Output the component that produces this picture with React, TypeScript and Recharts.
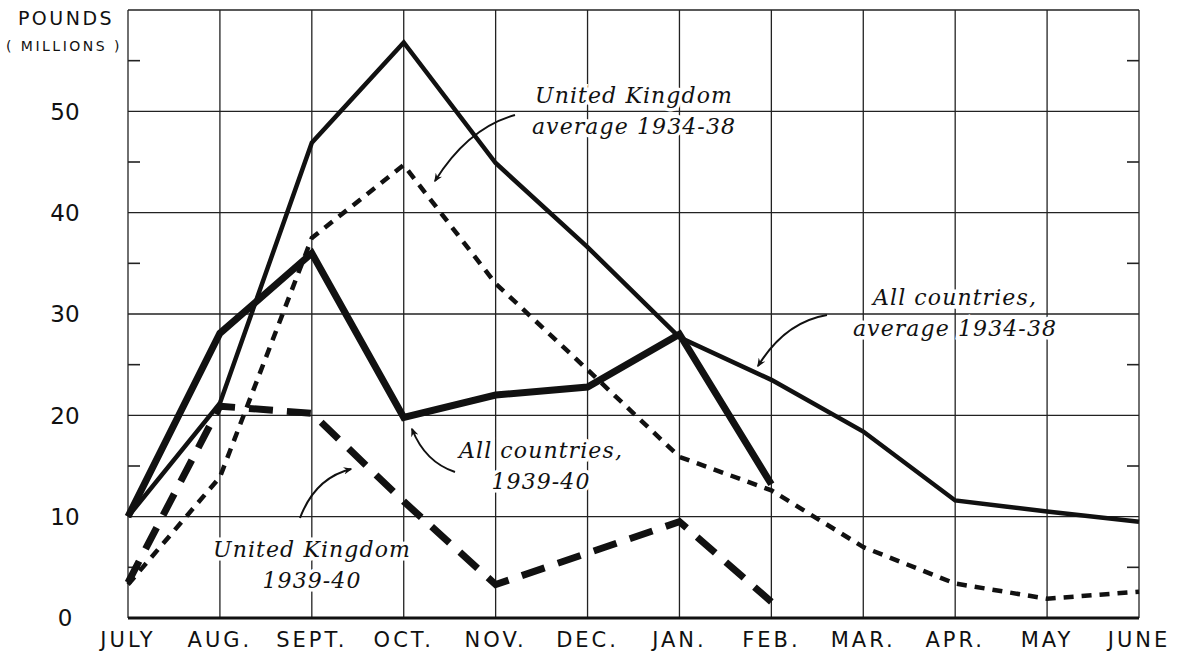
import { LineChart, Line, XAxis, YAxis, CartesianGrid, ReferenceLine } from 'recharts';

// Monthly exports, million pounds
const months = ['JULY', 'AUG.', 'SEPT.', 'OCT.', 'NOV.', 'DEC.', 'JAN.', 'FEB.', 'MAR.', 'APR.', 'MAY', 'JUNE'];
const allCountriesAvg = [10, 21.2, 46.9, 56.8, 44.9, 36.6, 27.7, 23.5, 18.4, 11.6, 10.5, 9.5];
const allCountries3940 = [10, 28.1, 36, 19.8, 22, 22.8, 28, 13.2, null, null, null, null];
const ukAvg = [3.3, 13.9, 37.5, 44.7, 33, 24.5, 15.9, 12.6, 7, 3.4, 1.9, 2.6];
const uk3940 = [3.5, 20.9, 20.2, 11.5, 3.3, 6.4, 9.5, 1.6, null, null, null, null];

const yTicks = [0, 10, 20, 30, 40, 50, 60];
const minorTicks = [5, 15, 25, 35, 45, 55];

const data = months.map((m, i) => ({
  m,
  allAvg: allCountriesAvg[i],
  all3940: allCountries3940[i],
  ukAvg: ukAvg[i],
  uk3940: uk3940[i],
}));

const sans = '"DejaVu Sans", sans-serif';
const serif = '"DejaVu Serif", serif';

function YTick({ y, payload }: any) {
  if (payload.value === 60) return <g />;
  return (
    <text x={65} y={y} dy="0.36em" textAnchor="middle" fontFamily={sans} fontSize={23} fill="#111">
      {payload.value}
    </text>
  );
}

function XTick({ x, y, payload }: any) {
  return (
    <text x={x} y={y} dy="0.72em" textAnchor="middle" fontFamily={sans} fontSize={21} letterSpacing={3} fill="#111">
      {payload.value}
    </text>
  );
}

// short inward ticks on both frame edges at the half-steps
function MinorTick({ x1, x2, y1 }: any) {
  if (x1 == null || y1 == null) return null;
  const l = Math.min(x1, x2);
  const r = Math.max(x1, x2);
  return (
    <g stroke="#222" strokeWidth={1.6}>
      <line x1={l} y1={y1} x2={l + 12} y2={y1} />
      <line x1={r - 12} y1={y1} x2={r} y2={y1} />
    </g>
  );
}

function Note({ x, y, lines }: { x: number; y: number; lines: string[] }) {
  return (
    <text
      x={x}
      y={y}
      textAnchor="middle"
      fontFamily={serif}
      fontStyle="italic"
      fontSize={22}
      letterSpacing={1.1}
      fill="#111"
      stroke="#fff"
      strokeWidth={7}
      paintOrder="stroke"
    >
      {lines.map((l, i) => (
        <tspan key={i} x={x} dy={i === 0 ? 0 : 31}>
          {l}
        </tspan>
      ))}
    </text>
  );
}

function Annotations() {
  const arrow = { fill: 'none', stroke: '#111', strokeWidth: 2, markerEnd: 'url(#head)' };
  return (
    <svg width={1182} height={653} style={{ position: 'absolute', left: 0, top: 0, pointerEvents: 'none' }}>
      <defs>
        <marker id="head" viewBox="0 0 12 10" refX="10" refY="5" markerWidth="9" markerHeight="8" orient="auto" markerUnits="userSpaceOnUse">
          <path d="M0,0 L12,5 L0,10 L4,5 z" fill="#111" />
        </marker>
      </defs>
      <text x={66} y={25} textAnchor="middle" fontFamily={sans} fontSize={19} letterSpacing={2.5} fill="#111">
        POUNDS
      </text>
      <text x={64} y={51} textAnchor="middle" fontFamily={sans} fontSize={14} letterSpacing={2.5} fill="#111">
        {'( MILLIONS )'}
      </text>

      <Note x={634} y={103} lines={['United Kingdom', 'average 1934-38']} />
      <Note x={955} y={305} lines={['All countries,', 'average 1934-38']} />
      <Note x={541} y={458} lines={['All countries,', '1939-40']} />
      <Note x={312} y={557} lines={['United Kingdom', '1939-40']} />

      <path d="M515,115 Q468,128 435,181" {...arrow} />
      <path d="M827,315 Q785,322 758,366" {...arrow} />
      <path d="M455,472 Q425,462 412,429" {...arrow} />
      <path d="M300,518 Q315,478 351,469" {...arrow} />
    </svg>
  );
}

export default function App() {
  return (
    <div style={{ position: 'absolute', left: 0, top: 0, width: 1182, height: 653, background: '#fff' }}>
      <LineChart width={1182} height={653} data={data} margin={{ top: 10, right: 43, bottom: 0, left: 28 }}>
        <CartesianGrid stroke="#222" strokeWidth={1.3} />
        <XAxis
          dataKey="m"
          interval={0}
          tickLine={false}
          tickSize={0}
          tickMargin={14}
          height={35}
          axisLine={{ stroke: '#111', strokeWidth: 3 }}
          tick={<XTick />}
        />
        <YAxis
          type="number"
          domain={[0, 60]}
          ticks={yTicks}
          width={100}
          axisLine={false}
          tickLine={false}
          tick={<YTick />}
        />
        {minorTicks.map((v) => (
          <ReferenceLine key={v} y={v} shape={<MinorTick />} />
        ))}
        <Line dataKey="allAvg" stroke="#111" strokeWidth={4.5} dot={false} strokeLinejoin="miter" isAnimationActive={false} />
        <Line dataKey="ukAvg" stroke="#111" strokeWidth={4.5} strokeDasharray="10 8" dot={false} strokeLinejoin="miter" isAnimationActive={false} />
        <Line dataKey="uk3940" stroke="#111" strokeWidth={7} strokeDasharray="24 14" dot={false} strokeLinejoin="miter" isAnimationActive={false} />
        <Line dataKey="all3940" stroke="#111" strokeWidth={7} dot={false} strokeLinejoin="miter" isAnimationActive={false} />
      </LineChart>
      <Annotations />
    </div>
  );
}
